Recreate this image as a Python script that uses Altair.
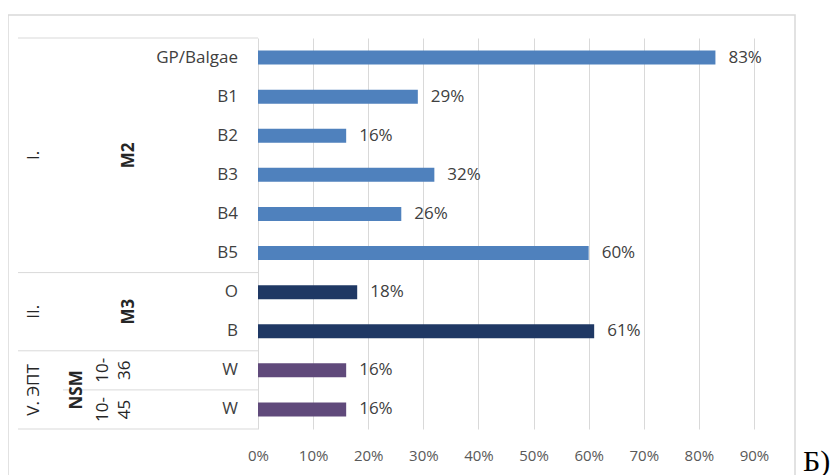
import altair as alt
import pandas as pd

# ---- data ----
rows = ["GP/Balgae", "B1", "B2", "B3", "B4", "B5", "O", "B", "W", "W"]
values = [0.83, 0.29, 0.16, 0.32, 0.26, 0.60, 0.18, 0.61, 0.16, 0.16]
level1 = ["I."] * 6 + ["II."] * 2 + ["V. ЭПТ"] * 2
level2 = ["M2"] * 6 + ["M3"] * 2 + ["NSM"] * 2
level3 = [""] * 8 + ["10-36", "10-45"]
groups = ["I.", "II.", "V. ЭПТ"]
colors = ["#4F81BD", "#1F3864", "#604A7B"]
tick_values = [0, 0.1, 0.2, 0.3, 0.4, 0.5, 0.6, 0.7, 0.8, 0.9]
corner_note = ["Б)"]

W, H = 496, 391
n = len(rows)
FONT = "Open Sans"
TXT = "#404040"
DARK = "#262626"
GRID = "#D9D9D9"

df = pd.DataFrame({"idx": list(range(n)), "row": rows, "value": values,
                   "l1": level1, "l2": level2, "l3": level3})

outer_b = [-0.5] + [i + 0.5 for i in range(n - 1) if level1[i] != level1[i + 1]] + [n - 0.5]
inner_b = [i + 0.5 for i in range(n - 1)
           if level1[i] == level1[i + 1] and level3[i] and level3[i + 1] and level3[i] != level3[i + 1]]

yscale = alt.Scale(domain=[-0.5, n - 0.5], reverse=True, nice=False, zero=False, padding=0)
xscale = alt.Scale(domain=[0, 0.9], nice=False)

xenc = alt.X("value:Q", scale=xscale, stack=None,
             axis=alt.Axis(format=".0%", values=tick_values, grid=True, gridColor=GRID,
                           gridWidth=1, domain=False, ticks=False, labelFontSize=15,
                           labelColor="#595959", labelFont=FONT, labelPadding=19,
                           labelFlush=False, labelOverlap=False, title=None))

base = alt.Chart(df)

frame = alt.Chart(pd.DataFrame({"a": [0]})).mark_rect(
    fillOpacity=0, stroke=GRID, strokeWidth=1.5
).encode(x=alt.value(-250), x2=alt.value(537), y=alt.value(-23), y2=alt.value(480))

bars = base.mark_bar(orient="horizontal", size=14).encode(
    x=xenc,
    y=alt.Y("idx:Q", scale=yscale, axis=None),
    color=alt.Color("l1:N", scale=alt.Scale(domain=groups, range=colors), legend=None),
)

labels = base.mark_text(align="left", baseline="middle", dx=13, fontSize=17,
                        font=FONT, color=TXT).encode(
    x=xenc,
    y=alt.Y("idx:Q", scale=yscale, axis=None),
    text=alt.Text("value:Q", format=".0%"),
)

row_labels = base.mark_text(align="right", baseline="middle", fontSize=17,
                            font=FONT, color=TXT).encode(
    x=alt.value(-20),
    y=alt.Y("idx:Q", scale=yscale, axis=None),
    text="row:N",
)

lvl1 = base.transform_aggregate(pos="mean(idx)", groupby=["l1"]).mark_text(
    angle=270, align="center", baseline="middle", fontSize=17, font=FONT, color=DARK
).encode(x=alt.value(-224), y=alt.Y("pos:Q", scale=yscale, axis=None), text="l1:N")

lvl2a = base.transform_filter("datum.l3 == ''").transform_aggregate(
    pos="mean(idx)", groupby=["l2"]).mark_text(
    angle=270, align="center", baseline="middle", fontSize=17, font=FONT,
    fontWeight="bold", color=DARK
).encode(x=alt.value(-129), y=alt.Y("pos:Q", scale=yscale, axis=None), text="l2:N")

lvl2b = base.transform_filter("datum.l3 != ''").transform_aggregate(
    pos="mean(idx)", groupby=["l2"]).mark_text(
    angle=270, align="center", baseline="middle", fontSize=17, font=FONT,
    fontWeight="bold", color=DARK
).encode(x=alt.value(-181), y=alt.Y("pos:Q", scale=yscale, axis=None), text="l2:N")

lvl3 = base.transform_filter("datum.l3 != ''").transform_calculate(
    t="replace(datum.l3, '-', '-\\n')").mark_text(
    angle=270, align="center", baseline="middle", fontSize=17, font=FONT,
    color=DARK, lineBreak="\n", lineHeight=22
).encode(x=alt.value(-155), y=alt.Y("idx:Q", scale=yscale, axis=None), text="t:N")

outer_rules = alt.Chart(pd.DataFrame({"b": outer_b})).mark_rule(color=GRID, strokeWidth=1).encode(
    y=alt.Y("b:Q", scale=yscale, axis=None), x=alt.value(-240), x2=alt.value(0))
inner_rules = alt.Chart(pd.DataFrame({"b": inner_b})).mark_rule(color=GRID, strokeWidth=1).encode(
    y=alt.Y("b:Q", scale=yscale, axis=None), x=alt.value(-195), x2=alt.value(0))

note = alt.Chart(pd.DataFrame({"t": corner_note})).mark_text(
    align="left", baseline="alphabetic", fontSize=30, font="Liberation Serif", color="black"
).encode(x=alt.value(545), y=alt.value(433), text="t:N")

chart = alt.layer(
    frame, outer_rules, inner_rules, bars, labels, row_labels, lvl1, lvl2a, lvl2b, lvl3, note
).properties(
    width=W, height=H,
    padding={"left": 250, "top": 30, "right": 76, "bottom": 46},
    autosize=alt.AutoSizeParams(type="none"),
    background="white",
).configure_view(stroke=None)

chart.save("out.html", embed_options={"renderer": "svg", "actions": False})
